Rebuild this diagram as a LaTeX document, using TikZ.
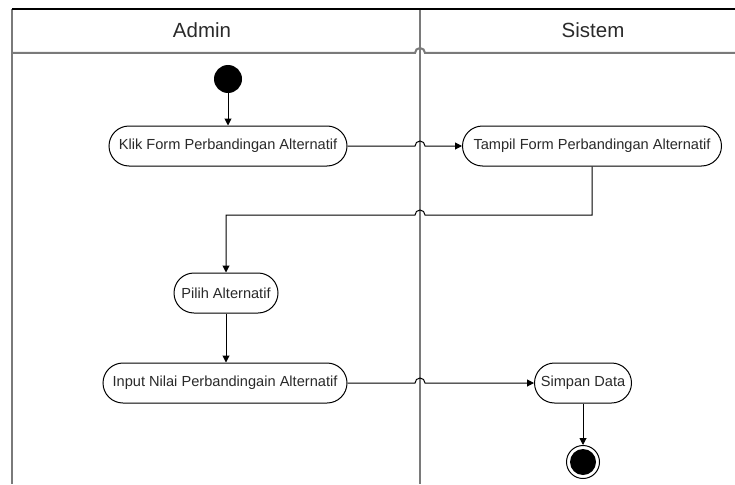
\documentclass[tikz,border=0pt]{standalone}
\usepackage{fontspec}
\setmainfont{Liberation Sans}
\usetikzlibrary{shapes.misc,arrows.meta,calc}
\definecolor{lanegray}{HTML}{7A7A7A}
\definecolor{txt}{HTML}{2A2A2A}
\tikzset{
  act/.style={rounded rectangle, draw=black, line width=1pt, fill=white,
    minimum height=40pt, inner xsep=6pt, text=txt, font=\fontsize{14.6}{18}\selectfont},
  flow/.style={draw=black, line width=1pt, -{Triangle[width=7pt,length=7pt]}},
  lane/.style={draw=lanegray, line width=2pt},
  head/.style={text=txt, font=\fontsize{20.5}{24}\selectfont},
  startdot/.style={circle, fill=black, minimum size=28pt, inner sep=0pt},
  enddot/.style={circle, draw=black, line width=1pt, fill=white, minimum size=33pt, inner sep=0pt,
    path picture={\fill[black] (path picture bounding box.center) circle (13pt);}}
}
\begin{document}
\begin{tikzpicture}[x=1pt,y=-1pt]
\useasboundingbox (0,0) rectangle (735,484);
% swimlanes
\coordinate (divtop) at (420,9);
\coordinate (divbot) at (420,484);
\draw[lane] (12,9) -- (12,484);
\draw[lane] (divtop) -- (divbot);
\draw[lane] (12,53) -- (415,53) arc[start angle=180,end angle=0,radius=5pt] -- (735,53);
\draw[black, line width=2pt] (12,9) -- (735,9);
\node[head] (hadmin) at (202,30) {Admin};
\node[head] (hsistem) at (593,30) {Sistem};
% nodes
\node[startdot] (start) at (228,79) {};
\node[act, minimum width=250pt] (klik) at (228,146) {Klik Form Perbandingan Alternatif};
\node[act, minimum width=271pt] (tampil) at (592,146) {Tampil Form Perbandingan Alternatif};
\node[act, minimum width=116pt] (pilih) at (226,293) {Pilih Alternatif};
\node[act, minimum width=256pt] (input) at (225,383) {Input Nilai Perbandingain Alternatif};
\node[act, minimum width=109pt] (simpan) at (583,383) {Simpan Data};
\node[enddot] (end) at (583,462) {};
% connectors
\draw[flow] (start) -- (klik.north -| start);
\draw[flow] (klik.east) -- ([xshift=-5pt]klik.east -| divtop) arc[start angle=180,end angle=0,radius=5pt] -- (tampil.west);
\coordinate (bend) at (592,215);
\draw[flow] (tampil.south) -- (bend) -- ([xshift=5pt]bend -| divtop) arc[start angle=0,end angle=180,radius=5pt] -- (bend -| pilih.north) -- (pilih.north);
\draw[flow] (pilih.south) -- (input.north -| pilih.south);
\draw[flow] (input.east) -- ([xshift=-5pt]input.east -| divtop) arc[start angle=180,end angle=0,radius=5pt] -- (simpan.west);
\draw[flow] (simpan.south) -- (end.north);
\end{tikzpicture}
\end{document}
